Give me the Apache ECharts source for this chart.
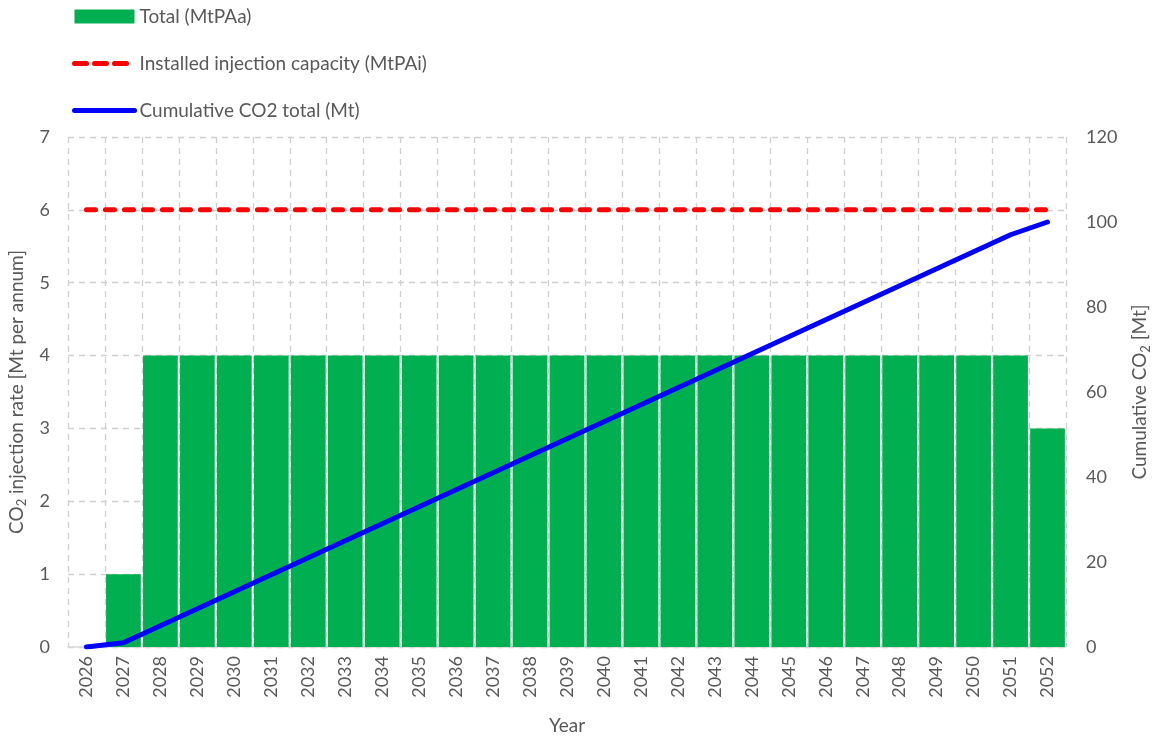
<!DOCTYPE html>
<html><head><meta charset="utf-8">
<script src="https://cdn.jsdelivr.net/npm/echarts@6/dist/echarts.min.js"></script>
<style>html,body{margin:0;padding:0;background:#fff}#c{width:1156px;height:738px}</style>
</head><body><div id="c"></div>
<script>
const years = ['2026','2027','2028','2029','2030','2031','2032','2033','2034','2035','2036','2037','2038','2039','2040','2041','2042','2043','2044','2045','2046','2047','2048','2049','2050','2051','2052'];
const totalMtPAa = [0,1,4,4,4,4,4,4,4,4,4,4,4,4,4,4,4,4,4,4,4,4,4,4,4,4,3];
const capacityMtPAi = [6,6,6,6,6,6,6,6,6,6,6,6,6,6,6,6,6,6,6,6,6,6,6,6,6,6,6];
const cumulativeMt = [0,1,5,9,13,17,21,25,29,33,37,41,45,49,53,57,61,65,69,73,77,81,85,89,93,97,100];

const FONT = 'Lato';
const TXT = '#595959';
const chart = echarts.init(document.getElementById('c'), null, {renderer:'canvas'});
chart.setOption({
  animation:false,
  textStyle:{fontFamily:FONT,color:TXT},
  legend:{
    orient:'vertical', left:67, top:2, itemGap:28, itemWidth:60, itemHeight:14,
    textStyle:{fontFamily:FONT,fontSize:19,color:TXT},
    data:[
      {name:'Total (MtPAa)',icon:'rect'},
      {name:'Installed injection capacity (MtPAi)',itemStyle:{opacity:0},lineStyle:{width:5,type:[12,8],cap:'round'}},
      {name:'Cumulative CO2 total (Mt)',itemStyle:{opacity:0},lineStyle:{width:5,cap:'round'}}
    ]
  },
  grid:{left:68,right:90,top:137,bottom:91,containLabel:false,outerBoundsMode:'none'},
  xAxis:{
    type:'category', data:years, boundaryGap:true,
    name:'Year', nameLocation:'middle', nameGap:69,
    nameTextStyle:{fontFamily:FONT,fontSize:19,color:TXT},
    axisLine:{show:true,lineStyle:{color:'#d9d9d9',width:1.5}},
    axisTick:{show:false},
    axisLabel:{rotate:90,fontFamily:FONT,fontSize:18,color:TXT,margin:9,interval:0},
    splitLine:{show:true,interval:0,lineStyle:{type:[6,5],color:'#cfcfcf',width:1.3}}
  },
  yAxis:[{
    type:'value', min:0, max:7, interval:1,
    name:'{a|CO}{s|2}{a| injection rate [Mt per annum]}', nameLocation:'middle', nameGap:39,
    nameTextStyle:{rich:{a:{fontFamily:FONT,fontSize:19,color:TXT,lineHeight:24},s:{fontFamily:FONT,fontSize:13,color:TXT,verticalAlign:'bottom',lineHeight:24,padding:[8,0,0,0]}}},
    axisLine:{show:false}, axisTick:{show:false},
    axisLabel:{fontFamily:FONT,fontSize:18,color:TXT,margin:18},
    splitLine:{show:true,lineStyle:{type:[6,5],color:'#cfcfcf',width:1.3}}
  },{
    type:'value', min:0, max:120, interval:20, position:'right',
    name:'{a|Cumulative CO}{s|2}{a| [Mt]}', nameLocation:'middle', nameGap:62,
    nameTextStyle:{rich:{a:{fontFamily:FONT,fontSize:19,color:TXT,lineHeight:24},s:{fontFamily:FONT,fontSize:13,color:TXT,verticalAlign:'bottom',lineHeight:24,padding:[8,0,0,0]}}},
    axisLine:{show:false}, axisTick:{show:false},
    axisLabel:{fontFamily:FONT,fontSize:18,color:TXT,margin:20},
    splitLine:{show:false}
  }],
  series:[{
    name:'Total (MtPAa)', type:'bar', data:totalMtPAa, yAxisIndex:0,
    barCategoryGap:'6%', itemStyle:{color:'#00B050'}, z:2
  },{
    name:'Installed injection capacity (MtPAi)', type:'line', data:capacityMtPAi, yAxisIndex:0,
    symbol:'none', lineStyle:{color:'#FF0000',width:5,type:[9,10],cap:'round'}, itemStyle:{color:'#FF0000'}, z:4
  },{
    name:'Cumulative CO2 total (Mt)', type:'line', data:cumulativeMt, yAxisIndex:1,
    symbol:'none', lineStyle:{color:'#0000FF',width:5,cap:'round',join:'round'}, itemStyle:{color:'#0000FF'}, z:5
  }]
});
</script></body></html>
